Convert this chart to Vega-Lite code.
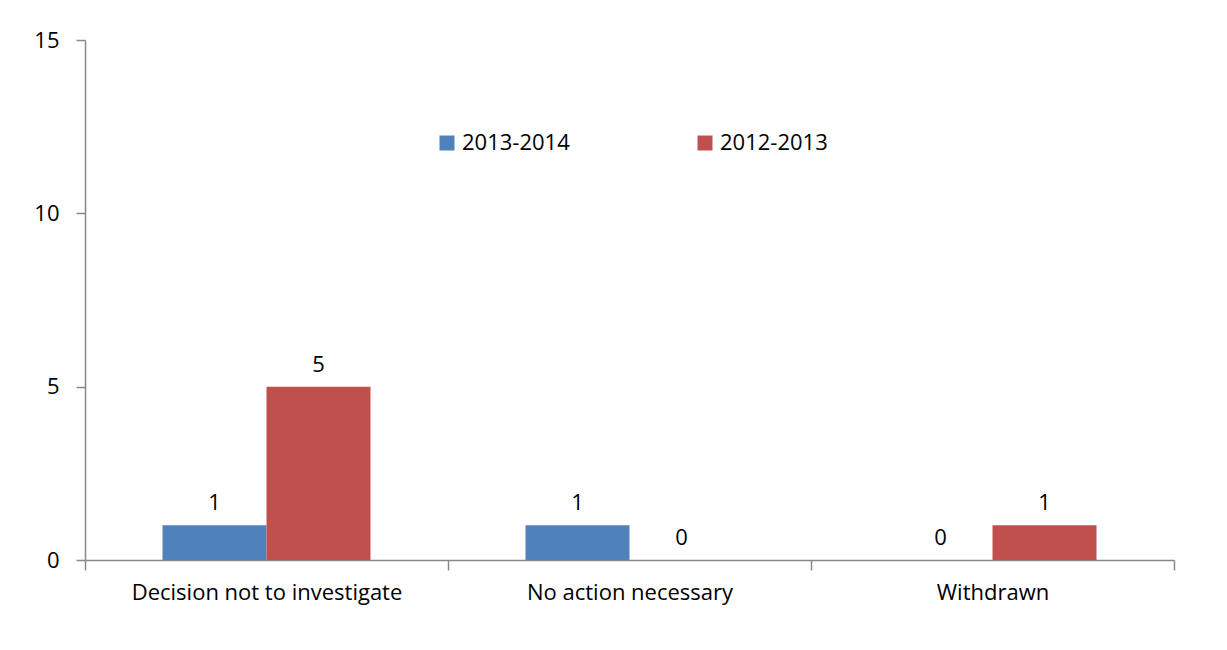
{
  "$schema": "https://vega.github.io/schema/vega-lite/v6.json",
  "autosize": "none",
  "width": 1089,
  "height": 520,
  "padding": {"left": 85, "top": 40, "right": 53, "bottom": 90},
  "background": "white",
  "config": {
    "view": {"stroke": null},
    "font": "Open Sans",
    "axis": {"grid": false, "domainColor": "#888888", "tickColor": "#888888", "domainWidth": 1.5, "tickWidth": 1.5, "labelColor": "#000000", "labelFont": "Open Sans", "labelFontSize": 22, "title": null}
  },
  "data": {"values": [
    {"category": "Decision not to investigate", "series": "2013-2014", "value": 1},
    {"category": "Decision not to investigate", "series": "2012-2013", "value": 5},
    {"category": "No action necessary", "series": "2013-2014", "value": 1},
    {"category": "No action necessary", "series": "2012-2013", "value": 0},
    {"category": "Withdrawn", "series": "2013-2014", "value": 0},
    {"category": "Withdrawn", "series": "2012-2013", "value": 1}
  ]},
  "encoding": {
    "x": {"field": "category", "type": "nominal", "sort": null,
      "scale": {"paddingInner": 0, "paddingOuter": 0},
      "axis": {"labelAngle": 0, "tickBand": "extent", "tickSize": 10, "labelPadding": 12, "labelLimit": 400}},
    "xOffset": {"field": "series", "type": "nominal", "sort": ["2013-2014", "2012-2013"],
      "scale": {"paddingInner": 0, "paddingOuter": 0.745}},
    "y": {"field": "value", "type": "quantitative",
      "scale": {"domain": [0, 15], "nice": false},
      "axis": {"values": [0, 5, 10, 15], "tickSize": 9, "labelPadding": 17}}
  },
  "layer": [
    {
      "mark": {"type": "bar"},
      "encoding": {
        "color": {"field": "series", "type": "nominal", "sort": ["2013-2014", "2012-2013"],
          "scale": {"domain": ["2013-2014", "2012-2013"], "range": ["#4F81BD", "#C0504D"]},
          "legend": {"title": null, "orient": "none", "legendX": 351, "legendY": 92, "direction": "horizontal",
            "symbolType": "square", "symbolSize": 225, "symbolStrokeWidth": 0, "labelFontSize": 22, "labelFont": "Open Sans", "labelColor": "#000000",
            "labelOffset": 4, "columnPadding": 124}}
      }
    },
    {
      "mark": {"type": "text", "baseline": "bottom", "dy": -10, "fontSize": 22, "font": "Open Sans", "color": "#000000"},
      "encoding": {"text": {"field": "value", "type": "quantitative"}}
    }
  ]
}
